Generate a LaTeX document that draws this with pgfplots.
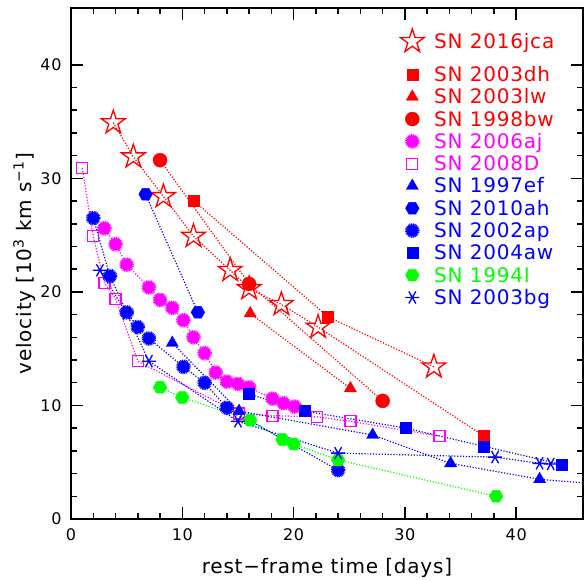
\documentclass[border=0pt]{standalone}
\usepackage{fontspec}
\setmainfont{DejaVu Sans}[LetterSpace=4]
\usepackage{pgfplots}
\pgfplotsset{compat=1.18}
\usepackage{pgfplotstable}
\definecolor{pgreen}{RGB}{0,255,0}
\definecolor{pmag}{RGB}{255,0,255}
\definecolor{pred}{RGB}{255,0,0}
\definecolor{pblue}{RGB}{0,0,255}

\pgfdeclareplotmark{ostar}{%
  \pgfpathmoveto{\pgfpointpolar{90}{\pgfplotmarksize}}%
  \pgfpathlineto{\pgfpointpolar{126}{0.382\pgfplotmarksize}}%
  \pgfpathlineto{\pgfpointpolar{162}{\pgfplotmarksize}}%
  \pgfpathlineto{\pgfpointpolar{198}{0.382\pgfplotmarksize}}%
  \pgfpathlineto{\pgfpointpolar{234}{\pgfplotmarksize}}%
  \pgfpathlineto{\pgfpointpolar{270}{0.382\pgfplotmarksize}}%
  \pgfpathlineto{\pgfpointpolar{306}{\pgfplotmarksize}}%
  \pgfpathlineto{\pgfpointpolar{342}{0.382\pgfplotmarksize}}%
  \pgfpathlineto{\pgfpointpolar{18}{\pgfplotmarksize}}%
  \pgfpathlineto{\pgfpointpolar{54}{0.382\pgfplotmarksize}}%
  \pgfpathclose\pgfusepathqstroke}
\pgfdeclareplotmark{hexagon*}{%
  \pgfpathmoveto{\pgfpointpolar{0}{\pgfplotmarksize}}%
  \pgfpathlineto{\pgfpointpolar{60}{\pgfplotmarksize}}%
  \pgfpathlineto{\pgfpointpolar{120}{\pgfplotmarksize}}%
  \pgfpathlineto{\pgfpointpolar{180}{\pgfplotmarksize}}%
  \pgfpathlineto{\pgfpointpolar{240}{\pgfplotmarksize}}%
  \pgfpathlineto{\pgfpointpolar{300}{\pgfplotmarksize}}%
  \pgfpathclose\pgfusepathqfillstroke}

% ---------------- data ----------------
\pgfplotstableread{
x y
3.8 34.9
5.6 31.9
8.3 28.4
11.0 24.9
14.3 21.9
16.0 20.3
18.9 18.9
22.2 16.9
32.6 13.4
}\jca
\pgfplotstableread{
x y
3.8 34.9
5.6 31.9
8.3 28.4
11.0 24.9
14.3 21.9
16.0 20.3
18.9 18.9
22.2 16.9
37.1 7.3
}\jcaline
\pgfplotstableread{
x y
11.05 28.0
23.1 17.8
37.1 7.3
}\dh
\pgfplotstableread{
x y
11.05 28.0
23.1 17.8
32.6 13.4
}\dhline
\pgfplotstableread{
x y
16.1 18.1
25.1 11.5
}\lw
\pgfplotstableread{
x y
8.0 31.6
16.0 20.7
28.0 10.4
}\bw
\pgfplotstableread{
x y
3.0 25.6
4.0 24.2
5.0 22.4
7.0 20.4
8.0 19.3
9.1 18.6
10.1 17.5
11.0 16.0
12.0 14.6
13.0 12.9
14.0 12.1
15.0 11.9
16.0 11.6
18.1 10.6
19.1 10.2
20.1 9.9
}\aj
\pgfplotstableread{
x y
1.0 30.9
2.0 24.9
3.0 20.8
4.0 19.4
6.0 13.9
15.1 9.3
18.1 9.1
22.1 9.0
25.1 8.6
33.1 7.3
}\dD
\pgfplotstableread{
x y
9.1 15.5
15.1 9.5
27.1 7.4
34.1 4.9
42.1 3.5
50.0 2.85
}\ef
\pgfplotstableread{
x y
6.7 28.6
11.4 18.2
}\ah
\pgfplotstableread{
x y
2.0 26.5
3.5 21.4
5.0 18.2
6.0 16.9
7.0 15.9
10.1 13.4
12.0 12.0
14.0 9.8
24.0 4.3
}\ap
\pgfplotstableread{
x y
16.0 11.0
21.0 9.5
30.1 8.0
37.1 6.4
44.1 4.8
}\aw
\pgfplotstableread{
x y
8.0 11.6
10.0 10.7
16.1 8.7
19.0 7.0
20.0 6.6
24.0 5.2
38.2 2.0
}\sI
\pgfplotstableread{
x y
2.6 21.9
5.0 18.1
7.0 13.9
15.0 8.6
24.0 5.8
38.1 5.45
42.1 4.9
43.1 4.85
}\bg

\pgfplotsset{
  ln/.style={no marks, dash pattern=on 1.2pt off 1.7pt, line width=1.2pt, forget plot},
  spiky/.style={mark options={solid, line width=2.6pt, dash pattern=on 0.9pt off 0.7pt}},
}

\begin{document}
\begin{tikzpicture}
\begin{axis}[
  scale only axis, width=512pt, height=511pt,
  xmin=0, xmax=46, ymin=0, ymax=45,
  xtick={0,10,20,30,40}, ytick={0,10,20,30,40},
  minor x tick num=4, minor y tick num=4,
  tick align=inside,
  major tick length=12pt, minor tick length=6pt,
  every tick/.style={black, line width=1.5pt},
  axis line style={line width=2pt},
  /pgf/number format/assume math mode=true,
  ticklabel style={font=\fontsize{16}{18}\selectfont},
  xticklabel style={yshift=-6pt},
  yticklabel style={xshift=-6pt},
  label style={font=\fontsize{20}{23}\selectfont},
  xlabel={rest−frame time [days]},
  ylabel={velocity [10\textsuperscript{3} km s\textsuperscript{−1}]},
  xlabel style={at={(axis description cs:0.5,-0.1076)}, anchor=base},
  ylabel style={at={(axis description cs:-0.078,0.5)}, anchor=base, rotate=0},
  legend image code/.code={\draw[#1] plot coordinates {(0pt,7pt)};},
  legend cell align=left,
  legend style={at={(axis description cs:0.6434,0.959)}, anchor=north west,
    draw=none, fill=none, inner sep=0pt, outer sep=0pt,
    column sep=10pt, row sep=0pt,
    font=\fontsize{20}{23}\selectfont,
    nodes={inner sep=0pt, text height=15pt, text depth=7.3pt, anchor=base west}},
]
% connecting dotted lines
\addplot[ln, pred] table {\jcaline};
\addplot[ln, pred] table {\dhline};
\addplot[ln, pred] table {\lw};
\addplot[ln, pred] table {\bw};
\addplot[ln, pmag] table {\aj};
\addplot[ln, pmag] table {\dD};
\addplot[ln, pblue] table {\ef};
\addplot[ln, pblue] table {\ah};
\addplot[ln, pblue] table {\ap};
\addplot[ln, pblue] table {\aw};
\addplot[ln, pgreen] table {\sI};
\addplot[ln, pblue] table {\bg};
% markers
\addplot[only marks, mark=ostar, mark size=12.5pt, pred, line width=1.3pt] table {\jca};
\addlegendentry[text depth=18pt]{\textcolor{pred}{SN 2016jca}}
\addplot[only marks, mark=square*, mark size=5.5pt, pred] table {\dh};
\addlegendentry{\textcolor{pred}{SN 2003dh}}
\addplot[only marks, mark=triangle*, mark size=7pt, pred] table {\lw};
\addlegendentry{\textcolor{pred}{SN 2003lw}}
\addplot[only marks, mark=*, mark size=7pt, pred] table {\bw};
\addlegendentry{\textcolor{pred}{SN 1998bw}}
\addplot[only marks, mark=*, mark size=6pt, pmag, spiky] table {\aj};
\addlegendentry{\textcolor{pmag}{SN 2006aj}}
\addplot[only marks, mark=square, mark size=5.5pt, pmag, line width=1.3pt] table {\dD};
\addlegendentry{\textcolor{pmag}{SN 2008D}}
\addplot[only marks, mark=triangle*, mark size=7pt, pblue] table {\ef};
\addlegendentry{\textcolor{pblue}{SN 1997ef}}
\addplot[only marks, mark=hexagon*, mark size=6.8pt, pblue] table {\ah};
\addlegendentry{\textcolor{pblue}{SN 2010ah}}
\addplot[only marks, mark=*, mark size=6pt, pblue, spiky] table {\ap};
\addlegendentry{\textcolor{pblue}{SN 2002ap}}
\addplot[only marks, mark=square*, mark size=5.5pt, pblue] table {\aw};
\addlegendentry{\textcolor{pblue}{SN 2004aw}}
\addplot[only marks, mark=hexagon*, mark size=6.8pt, pgreen] table {\sI};
\addlegendentry{\textcolor{pgreen}{SN 1994I}}
\addplot[only marks, mark=asterisk, mark size=7pt, pblue, line width=1.3pt, mark options={rotate=90}] table {\bg};
\addlegendentry{\textcolor{pblue}{SN 2003bg}}
\end{axis}
\pgfresetboundingbox
\path ([xshift=-71pt,yshift=-61pt]current axis.south west) rectangle ([xshift=2pt,yshift=8pt]current axis.north east);
\end{tikzpicture}
\end{document}
